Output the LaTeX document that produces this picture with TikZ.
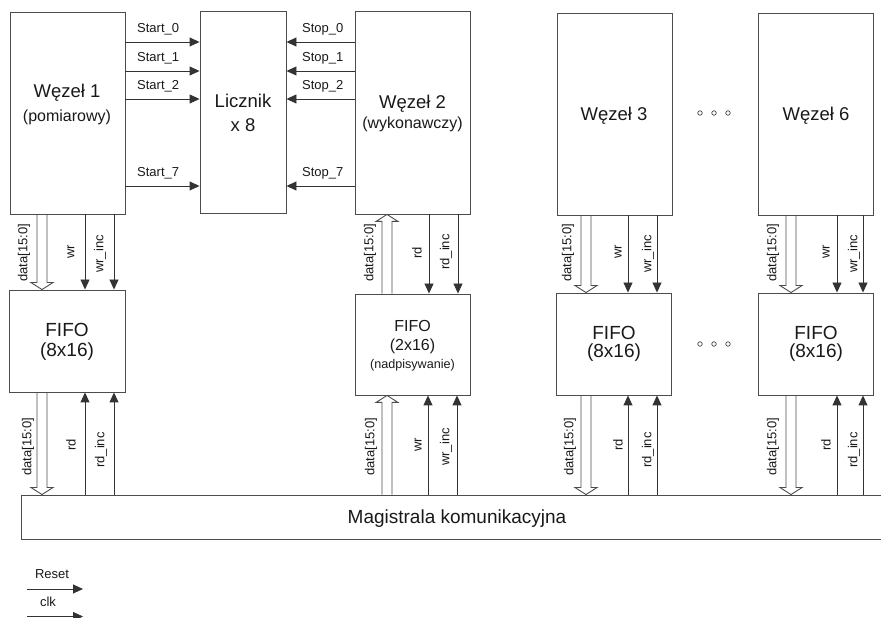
\documentclass[tikz,border=0pt]{standalone}
\usepackage{fontspec}
\setmainfont{Liberation Sans}
\usetikzlibrary{arrows.meta,calc}
\newcommand\hollowarrow[4]{%
  \draw[holl] let \p1=(#2), \p2=(#3) in
    (#1pt-5pt,\y1) -- (#1pt-5pt,\y2+#4pt) -- (#1pt-11pt,\y2+#4pt) -- (#1pt,\y2)
    -- (#1pt+11pt,\y2+#4pt) -- (#1pt+5pt,\y2+#4pt) -- (#1pt+5pt,\y1);}
\begin{document}
\begin{tikzpicture}[x=1pt,y=1pt,
  blk/.style={draw=black!70, line width=0.9pt, inner sep=0pt, minimum width=#1},
  sig/.style={draw=black!80, line width=0.9pt, -{Triangle[length=10pt,width=9pt]}},
  holl/.style={draw=black!70, line width=0.9pt},
  lbl/.style={font=\fontsize{13}{15}\selectfont, inner sep=0pt, text=black!90},
  vlbl/.style={lbl, rotate=90},
  big/.style={font=\fontsize{18.5}{22}\selectfont, inner sep=0pt, text=black!90, anchor=base},
  mid/.style={font=\fontsize{16}{19}\selectfont, inner sep=0pt, text=black!90, anchor=base},
  sml/.style={font=\fontsize{12.6}{15}\selectfont, inner sep=0pt, text=black!90, anchor=base},
  dot/.style={circle, draw=black!75, line width=0.7pt, inner sep=0pt, minimum size=4.5pt}]
\useasboundingbox (0,0) rectangle (881,618);
% blocks
\node[blk=115, minimum height=202] (w1) at (67.5,505) {};
\node[blk=86, minimum height=202] (lic) at (243,506) {};
\node[blk=115, minimum height=203] (w2) at (412.5,505.5) {};
\node[blk=115, minimum height=202] (w3) at (614.5,504) {};
\node[blk=115, minimum height=202] (w6) at (815.5,504) {};
\node[blk=116, minimum height=102] (f1) at (67,277) {};
\node[blk=115, minimum height=101] (f2) at (412.5,273.5) {};
\node[blk=115, minimum height=102] (f3) at (613.5,274) {};
\node[blk=115, minimum height=102] (f6) at (815.5,274) {};
\node[blk=869, minimum height=44] (bus) at (455.5,101) {};
% texts in blocks
\node[big] (t1a) at (67,520) {Węzeł 1};
\node[mid] (t1b) at (67,496) {(pomiarowy)};
\node[big] (tla) at (243,510) {Licznik};
\node[big] (tlb) at (243,486) {x 8};
\node[big] (t2a) at (412.5,509) {Węzeł 2};
\node[mid] (t2b) at (412.5,489) {(wykonawczy)};
\node[big] (t3) at (614,497) {Węzeł 3};
\node[big] (t6) at (816,497) {Węzeł 6};
\node[big, font=\fontsize{19}{22}\selectfont] (tf1a) at (67,281) {FIFO};
\node[big, font=\fontsize{19}{22}\selectfont] (tf1b) at (67,261) {(8x16)};
\node[mid] (tf2a) at (412.5,286.5) {FIFO};
\node[mid] (tf2b) at (412.5,267) {(2x16)};
\node[sml] (tf2c) at (412.5,249) {(nadpisywanie)};
\node[big, font=\fontsize{19}{22}\selectfont] (tf3a) at (614,278) {FIFO};
\node[big, font=\fontsize{19}{22}\selectfont] (tf3b) at (614,260) {(8x16)};
\node[big, font=\fontsize{19}{22}\selectfont] (tf6a) at (816,278) {FIFO};
\node[big, font=\fontsize{19}{22}\selectfont] (tf6b) at (816,260) {(8x16)};
\node[big, font=\fontsize{19}{22}\selectfont] (tbus) at (457,94) {Magistrala komunikacyjna};
% dots
\node[dot] (d1) at (700,505) {};
\node[dot] (d2) at (714,505) {};
\node[dot] (d3) at (728,505) {};
\node[dot] (d4) at (700,274) {};
\node[dot] (d5) at (714,274) {};
\node[dot] (d6) at (728,274) {};
% start / stop signals
\foreach \yy/\n in {576/0,547/1,519/2,432/7}{
  \draw[sig] (w1.east |- 0,\yy) -- (lic.west |- 0,\yy);
  \node[lbl, anchor=base west] (sa\n) at (137,\yy+9.5) {Start\_\n};
  \draw[sig] (w2.west |- 0,\yy) -- (lic.east |- 0,\yy);
  \node[lbl, anchor=base west] (so\n) at (302,\yy+9.5) {Stop\_\n};
}
% column 1
\hollowarrow{42}{w1.south}{f1.north}{7}
\draw[sig] (85,0 |- w1.south) -- (85,0 |- f1.north);
\draw[sig] (114,0 |- w1.south) -- (114,0 |- f1.north);
\node[vlbl] (c1a) at (24,365) {data[15:0]};
\node[vlbl] (c1b) at (71,366) {wr};
\node[vlbl] (c1c) at (100,364) {wr\_inc};
\hollowarrow{42}{f1.south}{bus.north}{7}
\draw[sig] (85,0 |- bus.north) -- (85,0 |- f1.south);
\draw[sig] (114,0 |- bus.north) -- (114,0 |- f1.south);
\node[vlbl] (c1d) at (28,171) {data[15:0]};
\node[vlbl] (c1e) at (71,173) {rd};
\node[vlbl] (c1f) at (101,168) {rd\_inc};
% column 2
\hollowarrow{387}{f2.north}{w2.south}{-7}
\draw[sig] (429,0 |- w2.south) -- (429,0 |- f2.north);
\draw[sig] (458,0 |- w2.south) -- (458,0 |- f2.north);
\node[vlbl] (c2a) at (370,365) {data[15:0]};
\node[vlbl] (c2b) at (417,365) {rd};
\node[vlbl] (c2c) at (446,366) {rd\_inc};
\hollowarrow{387}{bus.north}{f2.south}{-7}
\draw[sig] (428,0 |- bus.north) -- (428,0 |- f2.south);
\draw[sig] (457,0 |- bus.north) -- (457,0 |- f2.south);
\node[vlbl] (c2d) at (371,171) {data[15:0]};
\node[vlbl] (c2e) at (418,173) {wr};
\node[vlbl] (c2f) at (446,171) {wr\_inc};
% column 3
\hollowarrow{586}{w3.south}{f3.north}{7}
\draw[sig] (628,0 |- w3.south) -- (628,0 |- f3.north);
\draw[sig] (657,0 |- w3.south) -- (657,0 |- f3.north);
\node[vlbl] (c3a) at (568,365) {data[15:0]};
\node[vlbl] (c3b) at (618,366) {wr};
\node[vlbl] (c3c) at (648,364) {wr\_inc};
\hollowarrow{586}{f3.south}{bus.north}{7}
\draw[sig] (628,0 |- bus.north) -- (628,0 |- f3.south);
\draw[sig] (657,0 |- bus.north) -- (657,0 |- f3.south);
\node[vlbl] (c3d) at (570,171) {data[15:0]};
\node[vlbl] (c3e) at (618,173) {rd};
\node[vlbl] (c3f) at (648,168) {rd\_inc};
% column 6
\hollowarrow{791}{w6.south}{f6.north}{7}
\draw[sig] (837,0 |- w6.south) -- (837,0 |- f6.north);
\draw[sig] (863,0 |- w6.south) -- (863,0 |- f6.north);
\node[vlbl] (c6a) at (773,365) {data[15:0]};
\node[vlbl] (c6b) at (826,366) {wr};
\node[vlbl] (c6c) at (854,364) {wr\_inc};
\hollowarrow{791}{f6.south}{bus.north}{7}
\draw[sig] (837,0 |- bus.north) -- (837,0 |- f6.south);
\draw[sig] (863,0 |- bus.north) -- (863,0 |- f6.south);
\node[vlbl] (c6d) at (773,171) {data[15:0]};
\node[vlbl] (c6e) at (826,173) {rd};
\node[vlbl] (c6f) at (854,168) {rd\_inc};
% legend
\coordinate (r0) at (27,29);
\coordinate (r1) at (83,29);
\draw[sig] (r0) -- (r1);
\node[lbl, anchor=base] (rl) at (52,39) {Reset};
\coordinate (k0) at (27,1.5);
\coordinate (k1) at (83,1.5);
\draw[sig] (k0) -- (k1);
\node[lbl, anchor=base] (kl) at (48,11) {clk};
\end{tikzpicture}
\end{document}
